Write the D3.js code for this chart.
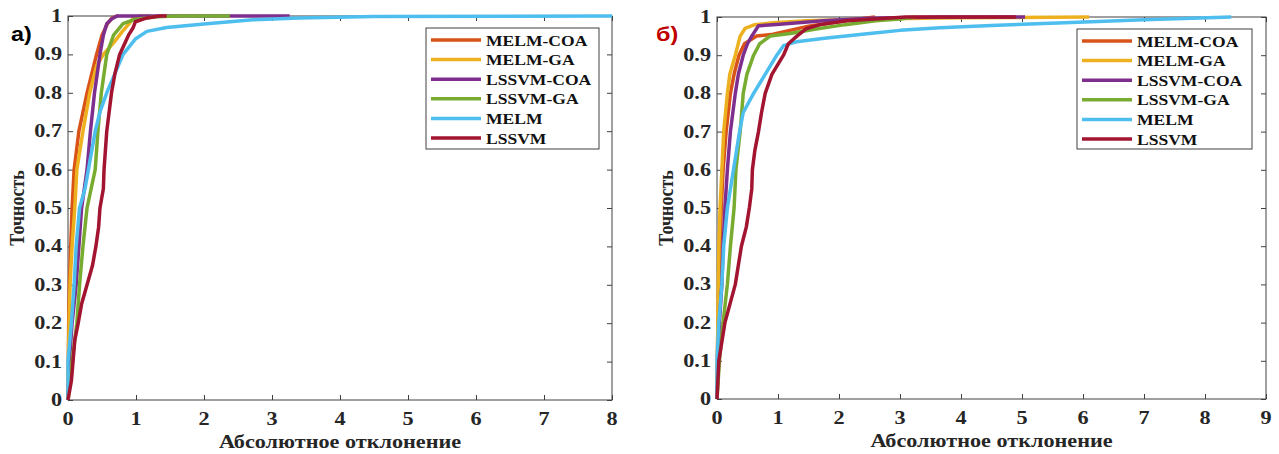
<!DOCTYPE html>
<html><head><meta charset="utf-8">
<script src="https://cdn.jsdelivr.net/npm/d3@7"></script>
<style>
html,body{margin:0;padding:0;background:#fff;}
svg{display:block;}
</style></head>
<body>
<svg id="chart" width="1279" height="454"></svg>
<script>
// ---- data ----
const seriesNames = ["MELM-COA","MELM-GA","LSSVM-COA","LSSVM-GA","MELM","LSSVM"];
const seriesColors = ["#D95319","#EDB120","#7E2F8E","#77AC30","#4DBEEE","#A2142F"];
const xTicksA = [0,1,2,3,4,5,6,7,8];
const xTicksB = [0,1,2,3,4,5,6,7,8,9];
const yTicks = [0,0.1,0.2,0.3,0.4,0.5,0.6,0.7,0.8,0.9,1];
const yTickLabels = ["0","0.1","0.2","0.3","0.4","0.5","0.6","0.7","0.8","0.9","1"];
const xLabel = "Абсолютное отклонение";
const yLabel = "Точность";
const panelLabels = ["а)","б)"];

// panel a
const a_melmCoa = [[0,0],[0.005,0.1],[0.01,0.2],[0.02,0.3],[0.04,0.4],[0.06,0.5],[0.09,0.6],[0.16,0.7],[0.22,0.75],[0.28,0.8],[0.35,0.85],[0.42,0.9],[0.5,0.95],[0.58,0.98],[0.65,0.995],[0.72,1.0],[0.74,1.0]];
const a_melmGa = [[0,0],[0.01,0.15],[0.03,0.3],[0.06,0.4],[0.1,0.5],[0.13,0.6],[0.22,0.7],[0.32,0.8],[0.42,0.87],[0.52,0.9],[0.67,0.93],[0.8,0.96],[0.9,0.98],[0.96,0.995],[1.05,1.0],[1.2,1.0]];
const a_lssvmCoa = [[0,0],[0.02,0.1],[0.06,0.2],[0.12,0.3],[0.16,0.4],[0.2,0.5],[0.28,0.6],[0.33,0.7],[0.39,0.8],[0.47,0.9],[0.52,0.95],[0.57,0.98],[0.64,0.992],[0.72,1.0],[3.26,1.0]];
const a_lssvmGa = [[0,0],[0.06,0.1],[0.13,0.2],[0.17,0.3],[0.22,0.4],[0.28,0.5],[0.4,0.6],[0.44,0.7],[0.49,0.8],[0.57,0.9],[0.67,0.95],[0.81,0.98],[0.96,0.99],[1.3,0.998],[1.6,1.0],[2.38,1.0]];
const a_melm = [[0,0],[0,0.1],[0.05,0.2],[0.09,0.3],[0.12,0.4],[0.17,0.5],[0.25,0.55],[0.3,0.6],[0.4,0.7],[0.47,0.75],[0.57,0.8],[0.69,0.85],[0.81,0.9],[0.99,0.94],[1.16,0.96],[1.45,0.97],[2.04,0.98],[2.72,0.99],[3.4,0.995],[4.5,0.999],[8,1.0]];
const a_lssvm = [[0,0],[0.05,0.05],[0.1,0.156],[0.15,0.2],[0.2,0.25],[0.28,0.3],[0.36,0.35],[0.41,0.4],[0.45,0.45],[0.47,0.5],[0.52,0.55],[0.53,0.6],[0.57,0.7],[0.64,0.8],[0.69,0.85],[0.76,0.9],[0.89,0.95],[0.96,0.97],[0.99,0.985],[1.16,0.995],[1.35,1.0],[1.45,1.0]];

// panel b
const b_melmCoa = [[0,0],[0.01,0.15],[0.03,0.3],[0.05,0.4],[0.07,0.5],[0.1,0.6],[0.15,0.7],[0.22,0.8],[0.28,0.85],[0.36,0.9],[0.45,0.93],[0.65,0.95],[0.92,0.955],[1.5,0.976],[2.1,0.99],[2.59,1.0]];
const b_melmGa = [[0,0],[0.01,0.15],[0.02,0.3],[0.03,0.4],[0.05,0.5],[0.08,0.6],[0.11,0.7],[0.17,0.8],[0.21,0.85],[0.3,0.9],[0.38,0.95],[0.46,0.97],[0.62,0.98],[0.92,0.985],[1.47,0.99],[2.5,0.995],[4,0.998],[6.1,1.0]];
const b_lssvmCoa = [[0,0],[0.02,0.1],[0.04,0.2],[0.08,0.3],[0.1,0.4],[0.13,0.5],[0.17,0.6],[0.22,0.7],[0.3,0.8],[0.35,0.85],[0.43,0.9],[0.5,0.93],[0.57,0.95],[0.68,0.977],[1.03,0.981],[1.74,0.99],[2.5,0.997],[3.66,1.0],[5.05,1.0]];
const b_lssvmGa = [[0,0],[0.04,0.1],[0.1,0.2],[0.17,0.3],[0.22,0.4],[0.28,0.5],[0.31,0.6],[0.38,0.7],[0.43,0.8],[0.49,0.85],[0.6,0.9],[0.7,0.93],[0.87,0.95],[1.2,0.957],[1.6,0.968],[2.1,0.98],[2.6,0.99],[3.0,0.995],[3.25,1.0]];
const b_melm = [[0,0],[0,0.1],[0.03,0.2],[0.08,0.3],[0.11,0.4],[0.17,0.5],[0.27,0.6],[0.37,0.7],[0.43,0.75],[0.6,0.8],[0.79,0.85],[0.98,0.9],[1.09,0.925],[1.3,0.935],[1.8,0.945],[2.5,0.957],[3.0,0.965],[3.66,0.972],[4.5,0.978],[5.7,0.985],[7,0.993],[8.43,1.0]];
const b_lssvm = [[0,0],[0.03,0.1],[0.13,0.2],[0.3,0.3],[0.35,0.35],[0.4,0.4],[0.48,0.45],[0.53,0.5],[0.57,0.55],[0.58,0.6],[0.62,0.65],[0.68,0.7],[0.73,0.75],[0.79,0.8],[0.9,0.85],[1.09,0.9],[1.17,0.93],[1.31,0.95],[1.47,0.97],[1.69,0.98],[2.13,0.99],[3.1,1.0],[4.9,1.0]];

const seriesA = [a_melmCoa,a_melmGa,a_lssvmCoa,a_lssvmGa,a_melm,a_lssvm];
const seriesB = [b_melmCoa,b_melmGa,b_lssvmCoa,b_lssvmGa,b_melm,b_lssvm];

// ---- drawing ----
const SX = 1.17; // horizontal text stretch of the original figure
const SERIF = "'Liberation Serif','Times New Roman',Times,serif";
const svg = d3.select("#chart");
const axisColor = "#404040";

const panels = [
  {left:68, right:612, top:16, bottom:400, xmax:8, xticks:xTicksA, series:seriesA,
   label:panelLabels[0], labelColor:"#000", labelX:11, labelY:41,
   ylabX:24, legend:{x:426,y:28,w:173,h:121}},
  {left:717, right:1266, top:17, bottom:399, xmax:9, xticks:xTicksB, series:seriesB,
   label:panelLabels[1], labelColor:"#C00000", labelX:656, labelY:41,
   ylabX:673, legend:{x:1077,y:29,w:175,h:120}}
];

function serifText(sel){
  return sel.attr("font-family",SERIF).attr("font-weight","bold").attr("fill","#262626");
}

panels.forEach(p => {
  const g = svg.append("g");
  const x = d3.scaleLinear().domain([0,p.xmax]).range([p.left,p.right]);
  const y = d3.scaleLinear().domain([0,1]).range([p.bottom,p.top]);

  g.append("rect").attr("x",p.left).attr("y",p.top)
    .attr("width",p.right-p.left).attr("height",p.bottom-p.top)
    .attr("fill","none").attr("stroke",axisColor).attr("stroke-width",1);

  const ax = [
    {a:d3.axisBottom(x).tickValues(p.xticks).tickSize(-5).tickFormat(""), t:`translate(0,${p.bottom})`},
    {a:d3.axisTop(x).tickValues(p.xticks).tickSize(-5).tickFormat(""), t:`translate(0,${p.top})`},
    {a:d3.axisLeft(y).tickValues(yTicks).tickSize(-5).tickFormat(""), t:`translate(${p.left},0)`},
    {a:d3.axisRight(y).tickValues(yTicks).tickSize(-5).tickFormat(""), t:`translate(${p.right},0)`}
  ];
  ax.forEach(o => {
    const ag = g.append("g").attr("transform",o.t).call(o.a);
    ag.select(".domain").remove();
    ag.selectAll("line").attr("stroke",axisColor).attr("stroke-width",1);
  });

  p.xticks.forEach(v => {
    serifText(g.append("text")).attr("transform",`translate(${x(v)},${p.bottom+25}) scale(${SX},1)`)
      .attr("text-anchor","middle").attr("font-size",19).text(String(v));
  });
  yTicks.forEach((v,i) => {
    serifText(g.append("text")).attr("transform",`translate(${p.left-6},${y(v)+6}) scale(${SX},1)`)
      .attr("text-anchor","end").attr("font-size",19).text(yTickLabels[i]);
  });

  serifText(g.append("text")).attr("transform",`translate(${(p.left+p.right)/2},${p.bottom+48}) scale(${SX},1)`)
    .attr("text-anchor","middle").attr("font-size",19).text(xLabel);
  serifText(g.append("text")).attr("transform",`translate(${p.ylabX},${(p.top+p.bottom)/2}) rotate(-90) scale(1,${SX})`)
    .attr("text-anchor","middle").attr("font-size",18).text(yLabel);

  g.append("text").attr("transform",`translate(${p.labelX},${p.labelY}) scale(${SX},1)`)
    .attr("font-family","'Liberation Sans',Arial,sans-serif").attr("font-weight","bold")
    .attr("fill",p.labelColor).attr("font-size",20).text(p.label);

  const line = d3.line().x(d=>x(d[0])).y(d=>y(d[1]));
  p.series.forEach((s,i) => {
    g.append("path").datum(s).attr("d",line)
      .attr("fill","none").attr("stroke",seriesColors[i])
      .attr("stroke-width",3.5).attr("stroke-linejoin","round").attr("stroke-linecap","butt");
  });

  const L = p.legend;
  const lg = g.append("g");
  lg.append("rect").attr("x",L.x).attr("y",L.y).attr("width",L.w).attr("height",L.h)
    .attr("fill","#fff").attr("stroke",axisColor).attr("stroke-width",1);
  seriesNames.forEach((n,i) => {
    const cy = L.y + 12 + i*19.6;
    lg.append("line").attr("x1",L.x+5).attr("x2",L.x+55).attr("y1",cy).attr("y2",cy)
      .attr("stroke",seriesColors[i]).attr("stroke-width",3.5);
    serifText(lg.append("text")).attr("transform",`translate(${L.x+60},${cy+5.5}) scale(${SX},1)`)
      .attr("font-size",15).attr("fill","#111").text(n);
  });
});
</script>
</body></html>
